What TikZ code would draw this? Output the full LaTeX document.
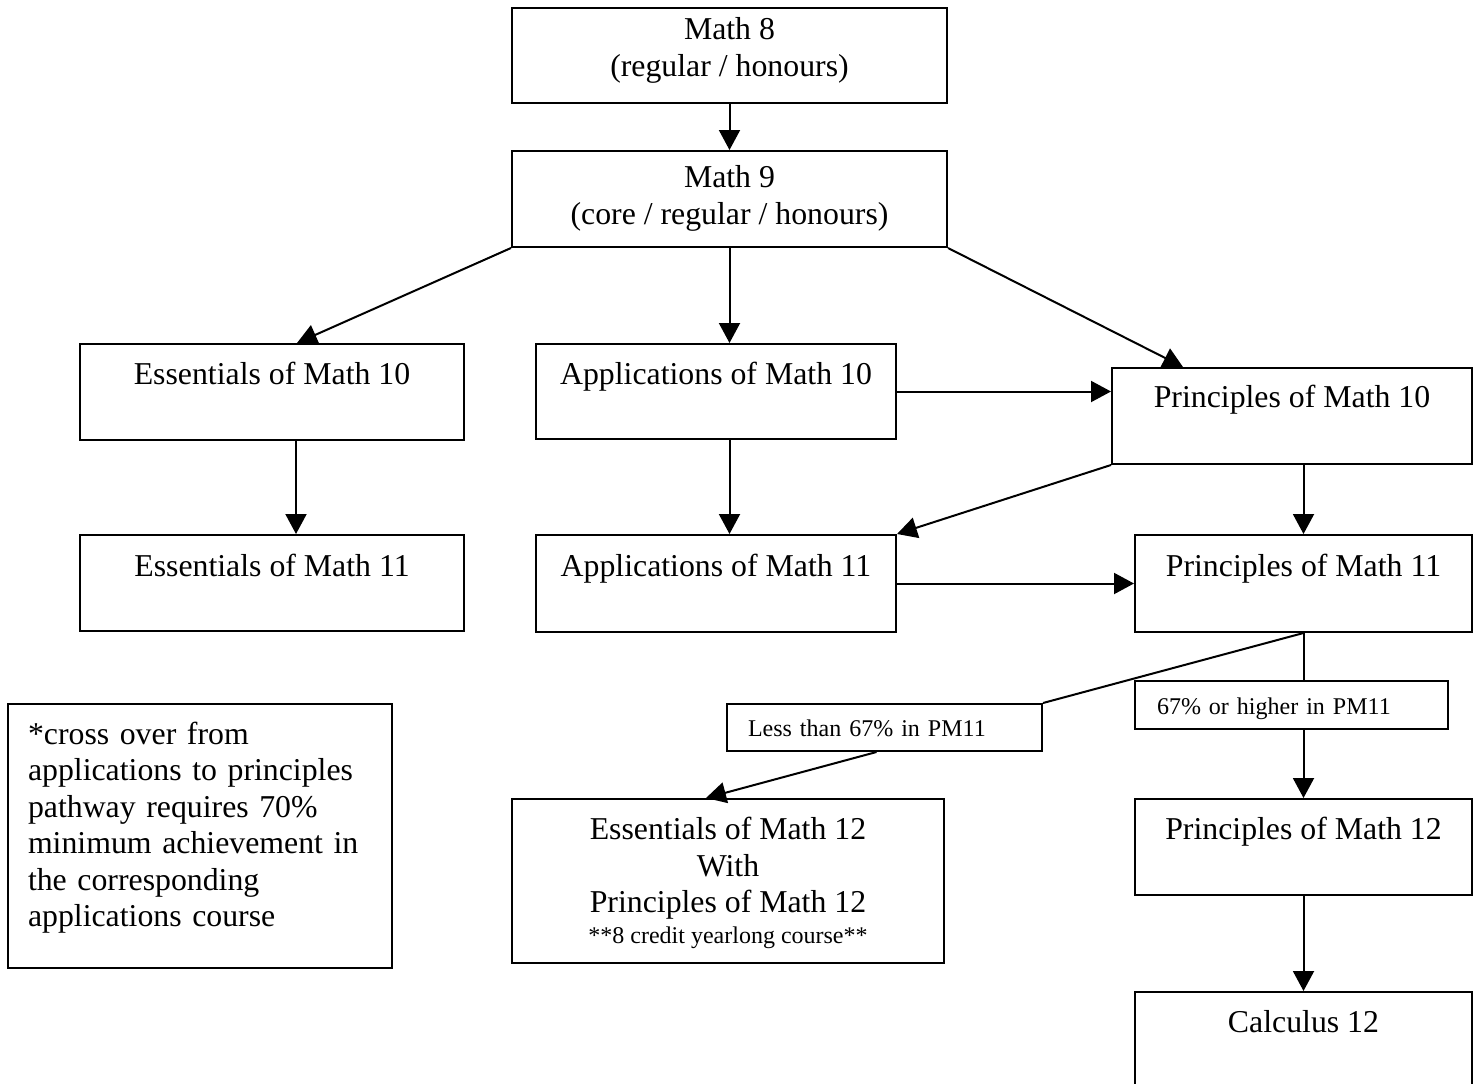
\documentclass[tikz,border=0pt]{standalone}
\usepackage{fontspec}
\setmainfont{Liberation Serif}
\usetikzlibrary{arrows.meta}
\tikzstyle{block} = [draw,rectangle,line width=2pt,inner sep=0pt,anchor=north west,align=center,
                     font=\fontsize{31.8}{36.5}\selectfont]
\tikzstyle{remark} = [block,align=left,inner xsep=20pt]
\tikzstyle{cond} = [block,align=left,font=\fontsize{24}{28}\selectfont]
\tikzstyle{connector} = [->,line width=2pt]
\tikzstyle{line} = [line width=2pt]

\begin{document}
\begin{tikzpicture}[x=1pt, y=-1pt, >={Triangle[length=20pt,width=21pt]}]
    \useasboundingbox (0,0) rectangle (1478,1084);
    % node placement at pixel positions (top left corner of each box)
			\node[block, minimum width=435pt, text height=68pt, text depth=27pt] (math8) at (511,7)
			{Math 8\\(regular / honours)};
			\node[block, minimum width=435pt, text height=73pt, text depth=23pt] (math9) at (511,150)
			{Math 9\\(core / regular / honours)};
			% grade 10
			\node[block, minimum width=384pt, text height=40pt, text depth=56pt] (ess10) at (79,343)
			{Essentials of Math 10};
			\node[block, minimum width=360pt, text height=40pt, text depth=55pt] (app10) at (535,343)
			{Applications of Math 10};
			\node[block, minimum width=360pt, text height=39pt, text depth=57pt] (prin10) at (1111,367)
			{Principles of Math 10};
			% grade 11
			\node[block, minimum width=384pt, text height=41pt, text depth=55pt] (ess11) at (79,534)
			{Essentials of Math 11};
			\node[block, minimum width=360pt, text height=41pt, text depth=56pt] (app11) at (535,534)
			{Applications of Math 11};
			\node[block, minimum width=337pt, text height=41pt, text depth=56pt] (prin11) at (1134,534)
			{Principles of Math 11};
			% conditions on PM11
			\node[cond, inner xsep=21pt, text width=273pt, text height=32pt, text depth=15pt] (less) at (726,703)
			{Less than 67\% in PM11};
			\node[cond, inner xsep=22pt, text width=269pt, text height=33pt, text depth=15pt] (high) at (1134,680)
			{67\% or higher in PM11};
			% grade 12
			\node[block, minimum width=432pt, text height=144pt, text depth=20pt] (ess12) at (511,798)
			{Essentials of Math 12\\With\\Principles of Math 12\\[-6pt]
			\fontsize{24}{28}\selectfont **8 credit yearlong course**};
			\node[block, minimum width=337pt, text height=40pt, text depth=56pt] (prin12) at (1134,798)
			{Principles of Math 12};
			\node[block, minimum width=337pt, text height=40pt, text depth=56pt] (calc) at (1134,991)
			{Calculus 12};
			% the footnote box
			\node[remark, text width=344pt, text height=40pt, text depth=224pt] (note) at (7,703)
			{*cross over from\\applications to principles\\pathway requires 70\%\\minimum achievement in\\
			the corresponding\\applications course};
			% now link the nodes
			\draw [connector] (math8.south) -- (math9.north);
			\draw [connector] (math9.south west) -- ([xshift=25pt]ess10.north);
			\draw [connector] (math9.south) -- (math9.south |- app10.north);
			\draw [connector] (math9.south east) -- ([xshift=-109pt]prin10.north);
			\draw [connector] (app10.east) -- (app10.east -| prin10.west);
			\draw [connector] ([xshift=24pt]ess10.south) -- ([xshift=24pt]ess11.north);
			\draw [connector] (math9.south |- app10.south) -- (math9.south |- app11.north);
			\draw [connector] (prin10.south west) -- (app11.north east);
			\draw [connector] (prin10.south -| prin11.north) -- (prin11.north);
			\draw [connector] (app11.east) -- (prin11.west);
			\draw [line] (prin11.south) -- (less.north east);
			\draw [connector] ([xshift=-8pt]less.south) -- ([xshift=-22pt]ess12.north);
			\draw [line] (prin11.south) -- (prin11.south |- high.north);
			\draw [connector] (high.south -| prin11.south) -- (prin12.north);
			\draw [connector] (prin12.south) -- (calc.north);
  \end{tikzpicture}
\end{document}
